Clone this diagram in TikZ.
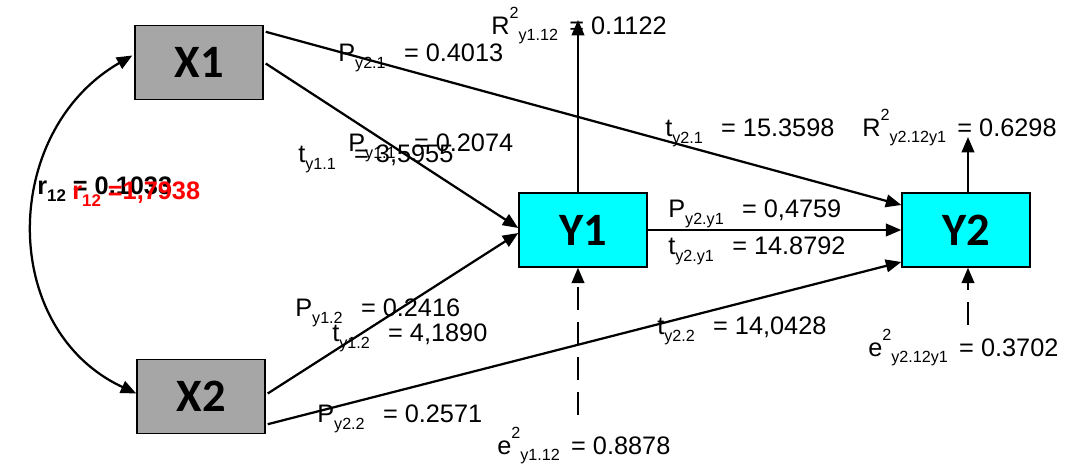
\documentclass[tikz,border=0pt]{standalone}
\usepackage{fontspec}
\setmainfont{Liberation Sans}
\newfontfamily\boxfont{Carlito}
\usepackage{tikz}
\usetikzlibrary{arrows.meta,calc,positioning}

\definecolor{boxcyan}{RGB}{0,255,255}
\definecolor{boxgray}{RGB}{166,166,166}

\newcommand{\subfont}{\fontsize{11.5}{12}\selectfont}
\newcommand{\coef}[3]{#1\raisebox{-4.5pt}{\subfont #2}\hspace{13pt}= #3}
\newcommand{\detr}[4]{#1\raisebox{12pt}{\subfont #2}\raisebox{-4pt}{\subfont #3}\hspace{8pt}= #4}

\tikzset{
  var/.style={draw,line width=1pt,minimum width=3.2cm,minimum height=1.85cm,
    font=\boxfont\fontsize{33}{36}\selectfont\bfseries},
  exo/.style={var,fill=boxgray},
  endo/.style={var,fill=boxcyan},
  tip/.style={Triangle[length=11pt,width=9pt]},
  path/.style={line width=1.6pt,-{Triangle[length=11pt,width=9pt]}},
  errpath/.style={path,dash pattern=on 16pt off 9pt},
  lbl/.style={anchor=base west,inner sep=0pt,font=\fontsize{18}{20}\selectfont}
}

\begin{document}
\begin{tikzpicture}[x=0.025cm,y=0.025cm]
    \useasboundingbox (0,0) rectangle (1068,467);
    % Variabler
    \node[exo]  (X1) at (199,404.5) {X1};
    \node[exo]  (X2) at (201,70.5)  {X2};
    \node[endo] (Y1) at (583,237)   {Y1};
    \node[endo] (Y2) at (966,237)   {Y2};
    % Korrelation mellem X1 og X2
    \draw[line width=1.6pt,{Triangle[length=11pt,width=9pt]}-{Triangle[length=11pt,width=9pt]}]
      ($(X1.west)+(-2,7)$) to[out=210,in=155,looseness=1.15] ($(X2.west)+(0,3)$);
    % Stier
    \draw[path] ($(X1.east)+(2,-1)$) -- ($(Y1.west)+(0,2)$);
    \draw[path] ($(X1.north east)+(2,-7)$) -- ($(Y2.west)+(0,25)$);
    \draw[path] ($(X2.east)+(2,3)$) -- ($(Y1.west)+(0,-3)$);
    \draw[path] ($(X2.south east)+(2,10)$) -- ($(Y2.west)+(0,-32)$);
    \draw[path] (Y1.east) -- (Y2.west);
    % R^2 og residualer
    \coordinate (R1) at (578,447);
    \coordinate (R2) at (968,330);
    \coordinate (E1) at (578,52);
    \coordinate (E2) at (968,142);
    \draw[path] (Y1.north -| R1) -- (R1);
    \draw[path] (Y2.north -| R2) -- (R2);
    \draw[errpath] (E1) -- (Y1.south -| E1);
    \draw[errpath] (E2) -- (Y2.south -| E2);
    % Koefficienter
    \node[lbl] (py21) at (338,405) {\coef{P}{y2.1}{0.4013}};
    \node[lbl] (ry1)  at (491,432) {\detr{R}{2}{y1.12}{0.1122}};
    \node[lbl] (py11) at (348,315) {\coef{P}{y1.1}{0.2074}};
    \node[lbl] (ty11) at (298,304) {\coef{t}{y1.1}{3,5955}};
    \node[lbl] (ty21) at (665,330) {\coef{t}{y2.1}{15.3598}};
    \node[lbl] (ry2)  at (862,330) {\detr{R}{2}{y2.12y1}{0.6298}};
    \node[lbl] (py2y) at (668,249) {\coef{P}{y2.y1}{0,4759}};
    \node[lbl] (ty2y) at (668,212) {\coef{t}{y2.y1}{14.8792}};
    \node[lbl] (py12) at (295,150) {\coef{P}{y1.2}{0.2416}};
    \node[lbl] (ty12) at (332,125) {\coef{t}{y1.2}{4,1890}};
    \node[lbl] (ty22) at (657,132) {\coef{t}{y2.2}{14,0428}};
    \node[lbl] (py22) at (317,44)  {\coef{P}{y2.2}{0.2571}};
    \node[lbl] (ey1)  at (497,12)  {\detr{e}{2}{y1.12}{0.8878}};
    \node[lbl] (ey2)  at (868,110) {\detr{e}{2}{y2.12y1}{0.3702}};
    % Korrelationskoefficient
    \node[lbl,font=\fontsize{18}{20}\selectfont\bfseries] (r12) at (37,272)
      {r\raisebox{-4.5pt}{\fontsize{12}{13}\selectfont\bfseries 12} = 0.1033};
    \node[lbl,font=\fontsize{18}{20}\selectfont\bfseries,red] (t12) at (72,267)
      {r\raisebox{-4.5pt}{\fontsize{12}{13}\selectfont\bfseries 12} =1,7938};
\end{tikzpicture}
\end{document}
